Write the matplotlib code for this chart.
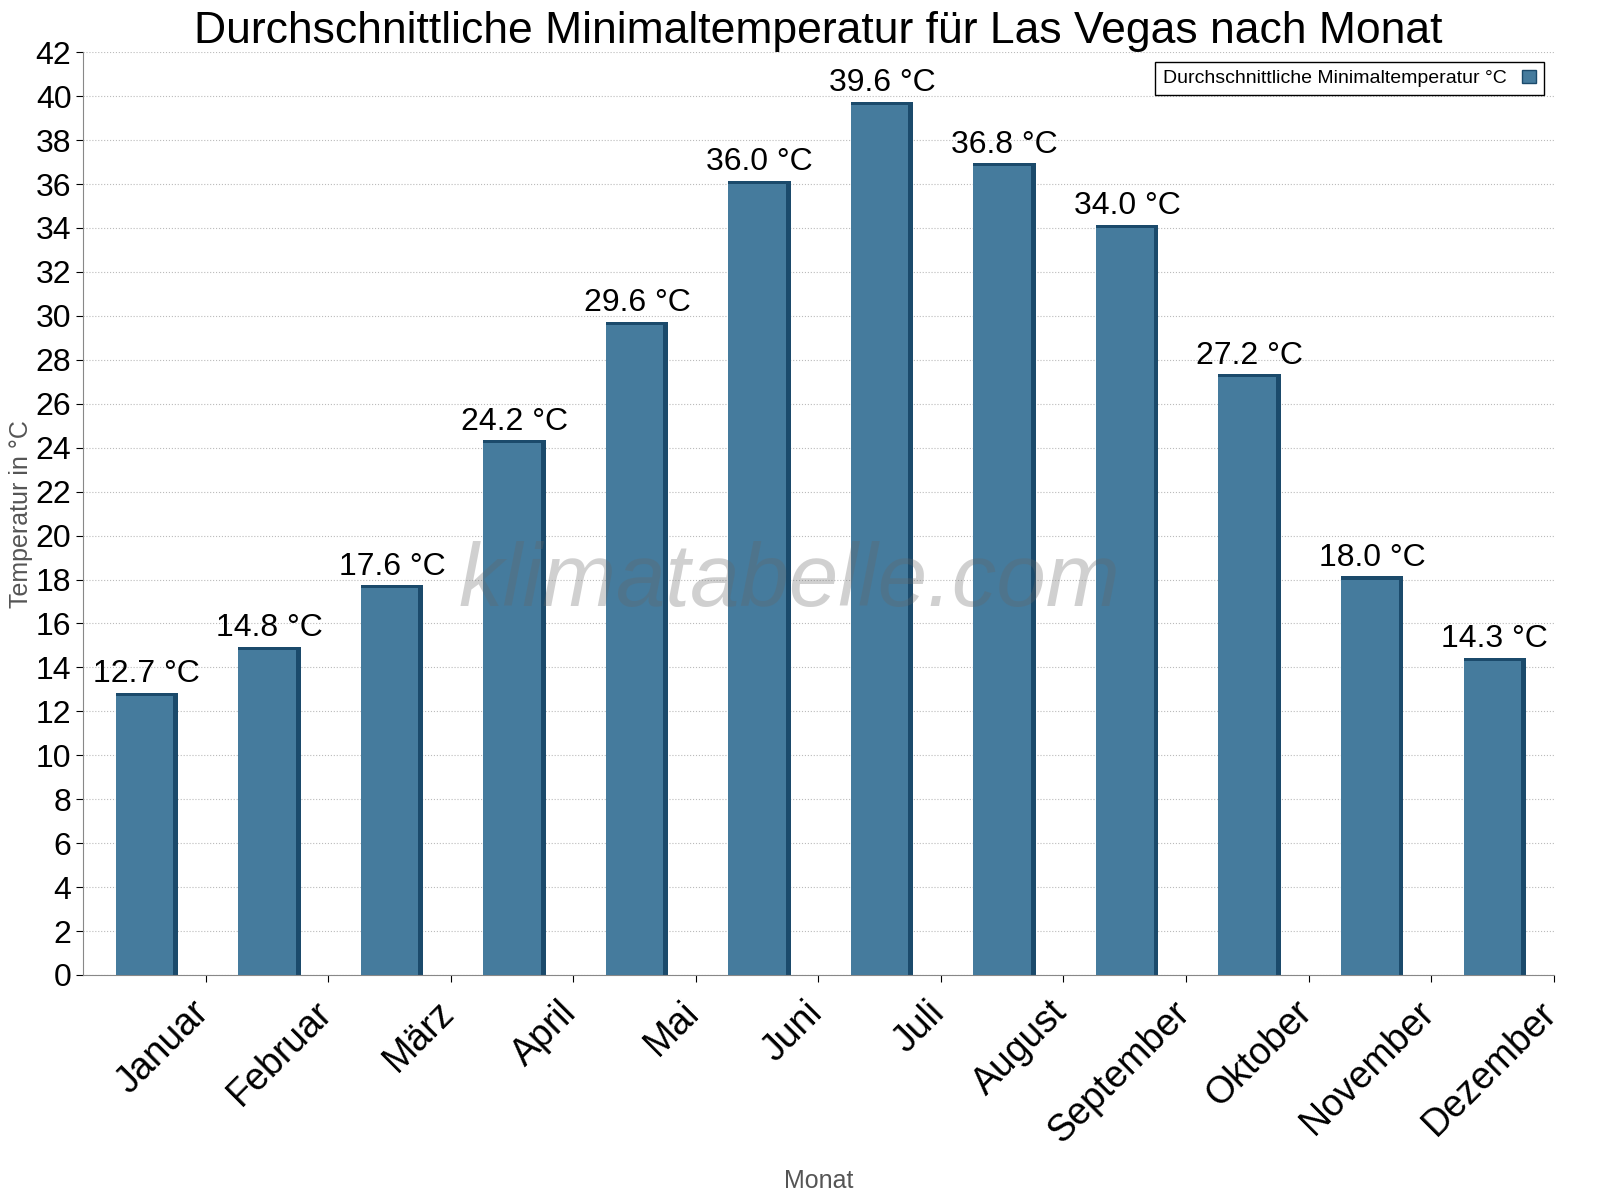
import matplotlib.pyplot as plt
import numpy as np

plt.rcParams["font.family"] = "Liberation Sans"

months = ["Januar", "Februar", "März", "April", "Mai", "Juni", "Juli",
          "August", "September", "Oktober", "November", "Dezember"]
temps = [12.7, 14.8, 17.6, 24.2, 29.6, 36.0, 39.6, 36.8, 34.0, 27.2, 18.0, 14.3]
yticks = list(range(0, 43, 2))

fig = plt.figure(figsize=(16, 12), dpi=100)
ax = fig.add_axes([0.052, 0.1875, 0.919, 0.769])

x = np.arange(len(months))
w = 0.47
dx, dy = 0.04, 0.14
# dark 3D side/top, then the face
ax.bar(x + dx / 2, np.array(temps) + dy, width=w + dx, color="#1b4a6b", zorder=2)
ax.bar(x, temps, width=w, color="#457b9d", zorder=3)

for xi, t in zip(x, temps):
    ax.text(xi + dx / 2, t + 0.3, f"{t:.1f} °C", ha="center", va="bottom",
            fontsize=23, zorder=4)

ax.set_xlim(-0.5, len(months) - 0.5)
ax.set_ylim(0, 42)
ax.set_yticks(yticks)
ax.tick_params(axis="y", labelsize=23, length=5)
ax.set_xticks(x + 0.5, minor=False)
ax.set_xticklabels([])
ax.set_xticks(x + 0.38, minor=True)
ax.set_xticklabels(months, minor=True, rotation=45, ha="right",
                   rotation_mode="anchor", fontsize=27)
ax.tick_params(axis="x", which="minor", length=0, pad=14)
ax.tick_params(axis="x", which="major", length=5)
ax.grid(axis="y", ls=":", color="#bbbbbb", zorder=0)
for s in ["top", "right"]:
    ax.spines[s].set_visible(False)
ax.spines["left"].set_color("#888888")
ax.spines["bottom"].set_color("#888888")

ax.set_xlabel("Monat", fontsize=18, color="#555555", labelpad=14)
ax.set_ylabel("Temperatur in °C", fontsize=18, color="#555555", labelpad=2)
ax.set_title("Durchschnittliche Minimaltemperatur für Las Vegas nach Monat",
             fontsize=32, pad=6)

ax.text(0.48, 0.425, "klimatabelle.com", transform=ax.transAxes, fontsize=64,
        style="italic", color="#666666", alpha=0.3, ha="center", va="center",
        zorder=5)

leg = ax.legend([plt.Rectangle((0, 0), 1, 1, fc="#457b9d", ec="#1b4a6b")],
                ["Durchschnittliche Minimaltemperatur °C"], loc="upper right",
                fontsize=14, fancybox=False, edgecolor="black",
                markerfirst=False, handlelength=0.7, framealpha=1)
leg.get_frame().set_linewidth(1)

fig.savefig("out.png", dpi=100)
